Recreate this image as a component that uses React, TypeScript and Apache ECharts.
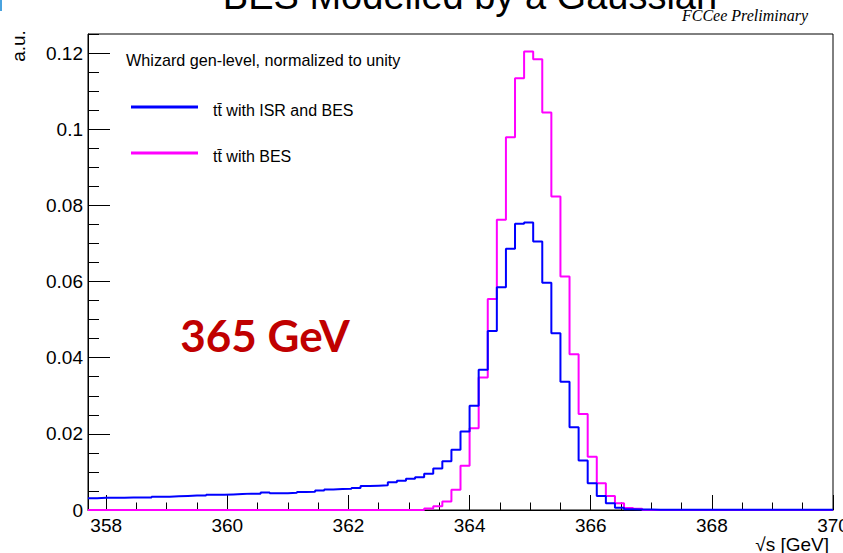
import React, { useEffect, useRef } from "react";
import * as echarts from "echarts";

// ---- axis ranges ----
const X_MIN = 357.7;
const X_MAX = 370;
const X_FIRST_MAJOR = 358;
const X_MAJOR_STEP = 2;
const BIN_WIDTH = 0.15;
const Y_MAX = 0.125;
const Y_MAJOR_STEP = 0.02;
const Y_MINOR_STEP = 0.005;

// ---- texts ----
const titleText = "BES Modelled by a Gaussian";
const legendHeader = "Whizard gen-level, normalized to unity";
const seriesNames = ["tt\u0304 with ISR and BES", "tt\u0304 with BES"];
const energyLabel = "365 GeV";
const xAxisTitle = "\u221As [GeV]";
const yAxisTitle = "a.u.";
const prelimText = "FCCee Preliminary";

// ---- histogram contents (82 bins of 0.15 GeV starting at X_MIN) ----
const isrBes = [
  0.0031, 0.0032, 0.0032, 0.0032, 0.0033, 0.0033, 0.0033, 0.0035, 0.0035, 0.0036,
  0.0037, 0.0038, 0.0038, 0.0040, 0.0040, 0.0041, 0.0042, 0.0043, 0.0043, 0.0046,
  0.0044, 0.0044, 0.0045, 0.0047, 0.0048, 0.0051, 0.0054, 0.0055, 0.0056, 0.0058,
  0.0063, 0.0064, 0.0065, 0.0073, 0.0077, 0.0082, 0.0086, 0.0095, 0.0109, 0.0128,
  0.0158, 0.0206, 0.0274, 0.0368, 0.0470, 0.0585, 0.0686, 0.0752, 0.0755, 0.0705,
  0.0597, 0.0464, 0.0337, 0.0217, 0.0130, 0.0070, 0.0037, 0.0018, 0.0006, 0.0002,
  0.0001, 0.0001, 0.00005, 0.00005, 0.00005, 0.00005, 0.00005, 0.00005, 0.00005, 0.00005,
  0.00005, 0.00005, 0.00005, 0.00005, 0.00005, 0.00005, 0.00005, 0.00005, 0.00005, 0.00005,
  0.00005, 0.00005,
];

const besOnly = [
  0, 0, 0, 0, 0, 0, 0, 0, 0, 0,
  0, 0, 0, 0, 0, 0, 0, 0, 0, 0,
  0, 0, 0, 0, 0, 0, 0, 0, 0, 0,
  0, 0, 0, 0, 0, 0, 0, 0.0004, 0.0010, 0.0022,
  0.0053, 0.0116, 0.0215, 0.0348, 0.0554, 0.0762, 0.0979, 0.1134, 0.1204, 0.1184,
  0.1044, 0.0823, 0.0613, 0.0409, 0.0252, 0.0140, 0.0070, 0.0037, 0.0018, 0.0005,
  0.0003, 0, 0, 0, 0, 0, 0, 0, 0, 0,
  0, 0, 0, 0, 0, 0, 0, 0, 0, 0,
  0, 0,
];

const BLUE = "#0000ff";
const MAGENTA = "#ff00ff";
const SANS = "'Liberation Sans', Arial, Helvetica, sans-serif";

function stepData(values: number[]) {
  const pts = values.map((v, i) => [Number((X_MIN + i * BIN_WIDTH).toFixed(4)), v]);
  pts.push([Number((X_MIN + values.length * BIN_WIDTH).toFixed(4)), values[values.length - 1]]);
  return pts;
}

export default function App() {
  const ref = useRef<HTMLDivElement>(null);

  useEffect(() => {
    if (!ref.current) return;
    const chart = echarts.init(ref.current, undefined, { renderer: "svg" });

    const gLeft = 88;
    const gTop = 34;
    const gWidth = 745;
    const gHeight = 476;
    const pxPerGeV = gWidth / (X_MAX - X_MIN);
    const tickGridLeft = gLeft + (X_FIRST_MAJOR - X_MIN) * pxPerGeV;
    const tickGridWidth = (X_MAX - X_FIRST_MAJOR) * pxPerGeV;

    chart.setOption({
      animation: false,
      backgroundColor: "#ffffff",
      grid: [
        {
          left: gLeft,
          top: gTop,
          width: gWidth,
          height: gHeight,
          containLabel: false,
          outerBoundsMode: "none",
          show: true,
          borderColor: "#000",
          borderWidth: 1,
          backgroundColor: "transparent",
        },
        {
          left: tickGridLeft,
          top: gTop,
          width: tickGridWidth,
          height: gHeight,
          containLabel: false,
          outerBoundsMode: "none",
          show: false,
        },
      ],
      xAxis: [
        {
          gridIndex: 0,
          type: "value",
          min: X_MIN,
          max: X_MAX,
          axisLine: { show: true, lineStyle: { color: "#000", width: 1 } },
          axisTick: { show: false },
          axisLabel: { show: false },
          splitLine: { show: false },
        },
        {
          gridIndex: 1,
          type: "value",
          min: X_FIRST_MAJOR,
          max: X_MAX,
          interval: X_MAJOR_STEP,
          axisLine: { show: false },
          axisTick: { show: true, inside: true, length: 15, lineStyle: { color: "#000", width: 1 } },
          minorTick: { show: true, splitNumber: 4, length: 7.5, lineStyle: { color: "#000", width: 1 } },
          axisLabel: {
            show: true,
            fontSize: 19,
            margin: 6,
            color: "#000",
            fontFamily: SANS,
            hideOverlap: false,
          },
          splitLine: { show: false },
          minorSplitLine: { show: false },
        },
      ],
      yAxis: [
        {
          gridIndex: 0,
          type: "value",
          min: 0,
          max: Y_MAX,
          interval: Y_MINOR_STEP,
          position: "left",
          axisLine: { show: true, lineStyle: { color: "#000", width: 1 } },
          axisTick: { show: true, inside: true, length: 11, lineStyle: { color: "#000", width: 1 } },
          axisLabel: { show: false },
          splitLine: { show: false },
        },
        {
          gridIndex: 0,
          type: "value",
          min: 0,
          max: Y_MAX,
          interval: Y_MAJOR_STEP,
          position: "left",
          axisLine: { show: false },
          axisTick: { show: true, inside: true, length: 22, lineStyle: { color: "#000", width: 1 } },
          axisLabel: {
            show: true,
            fontSize: 19,
            margin: 5,
            color: "#000",
            fontFamily: SANS,
            showMaxLabel: false,
          },
          splitLine: { show: false },
        },
        {
          gridIndex: 1,
          type: "value",
          min: 0,
          max: 1,
          show: false,
        },
      ],
      series: [
        {
          name: seriesNames[1],
          type: "line",
          xAxisIndex: 0,
          yAxisIndex: 0,
          step: "end",
          symbol: "none",
          silent: true,
          clip: false,
          z: 3,
          lineStyle: { color: MAGENTA, width: 2 },
          data: stepData(besOnly),
        },
        {
          name: seriesNames[0],
          type: "line",
          xAxisIndex: 0,
          yAxisIndex: 0,
          step: "end",
          symbol: "none",
          silent: true,
          clip: false,
          z: 4,
          lineStyle: { color: BLUE, width: 2 },
          data: stepData(isrBes),
        },
      ],
      graphic: [
        {
          type: "rect",
          shape: { x: 0, y: 0, width: 2, height: 11 },
          style: { fill: "#4aa3df" },
        },
        {
          type: "text",
          x: 470,
          y: -4,
          style: {
            text: titleText,
            fontSize: 38,
            fontFamily: SANS,
            fill: "#000",
            align: "center",
            verticalAlign: "middle",
          },
        },
        {
          type: "text",
          x: 808,
          y: 15,
          style: {
            text: prelimText,
            fontSize: 16,
            fontStyle: "italic",
            fontFamily: "'Liberation Serif', 'Times New Roman', serif",
            fill: "#000",
            align: "right",
            verticalAlign: "middle",
          },
        },
        {
          type: "text",
          x: 18,
          y: 46,
          rotation: Math.PI / 2,
          style: {
            text: yAxisTitle,
            fontSize: 19,
            fontFamily: SANS,
            fill: "#000",
            align: "center",
            verticalAlign: "middle",
          },
        },
        {
          type: "text",
          x: 829,
          y: 544,
          style: {
            text: xAxisTitle,
            fontSize: 19,
            fontFamily: SANS,
            fill: "#000",
            align: "right",
            verticalAlign: "middle",
          },
        },
        {
          type: "text",
          x: 126,
          y: 60,
          style: {
            text: legendHeader,
            fontSize: 16.2,
            fontFamily: SANS,
            fill: "#000",
            align: "left",
            verticalAlign: "middle",
          },
        },
        {
          type: "line",
          shape: { x1: 131, y1: 107, x2: 198, y2: 107 },
          style: { stroke: BLUE, lineWidth: 3 },
        },
        {
          type: "text",
          x: 213,
          y: 110,
          style: {
            text: seriesNames[0],
            fontSize: 16,
            fontFamily: SANS,
            fill: "#000",
            align: "left",
            verticalAlign: "middle",
          },
        },
        {
          type: "line",
          shape: { x1: 131, y1: 153, x2: 198, y2: 153 },
          style: { stroke: MAGENTA, lineWidth: 3 },
        },
        {
          type: "text",
          x: 213,
          y: 156,
          style: {
            text: seriesNames[1],
            fontSize: 16,
            fontFamily: SANS,
            fill: "#000",
            align: "left",
            verticalAlign: "middle",
          },
        },
        {
          type: "text",
          x: 265,
          y: 335,
          style: {
            text: energyLabel,
            fontSize: 44,
            fontWeight: "bold",
            fontFamily: "Lato, 'Open Sans', sans-serif",
            fill: "#c00000",
            align: "center",
            verticalAlign: "middle",
          },
        },
      ],
    });

    return () => {
      chart.dispose();
    };
  }, []);

  return (
    <div
      ref={ref}
      style={{ position: "fixed", left: 0, top: 0, width: 843, height: 553, background: "#fff" }}
    />
  );
}
